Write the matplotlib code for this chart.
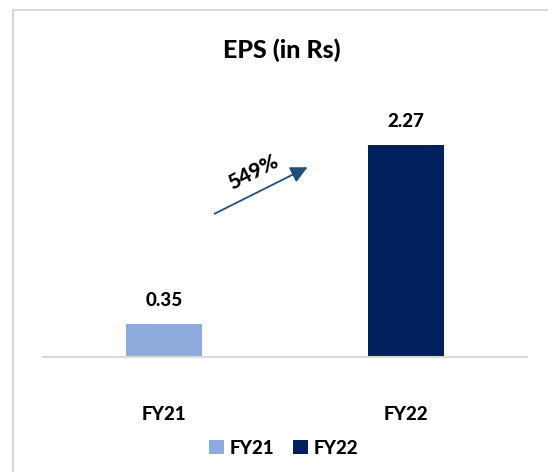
import matplotlib
matplotlib.use("Agg")
import matplotlib.pyplot as plt
from matplotlib.patches import Rectangle, Patch

categories = ["FY21", "FY22"]
values = [0.35, 2.27]
colors = ["#8FAADC", "#002060"]
growth_label = "549%"
title = "EPS (in Rs)"

plt.rcParams['font.family'] = ['Lato', 'DejaVu Sans']
WEIGHT = 900

W, H = 548, 472
fig = plt.figure(figsize=(W/100, H/100), dpi=100)
fig.patch.set_facecolor("white")

# outer border (extends past right/bottom edges)
fig.patches.append(Rectangle((13/W, -0.05), 1.2, 1 - 10/H + 0.05,
                             transform=fig.transFigure, fill=False,
                             edgecolor="#D9D9D9", linewidth=1.5))

ax = fig.add_axes([43/W, 115/H, 484/W, 233.5/H])
x = list(range(len(categories)))
bars = ax.bar(x, values, width=0.314, color=colors)
ax.set_xlim(-0.5, 1.5)
ax.set_ylim(0, 2.5)
for s in ["top", "right", "left"]:
    ax.spines[s].set_visible(False)
ax.spines["bottom"].set_color("#D9D9D9")
ax.spines["bottom"].set_linewidth(1.5)
ax.set_yticks([])
ax.set_xticks(x)
ax.set_xticklabels(categories, fontsize=13.5, fontweight=WEIGHT)
ax.tick_params(axis="x", length=0, pad=35)

for xi, v in zip(x, values):
    ax.annotate(f"{v:.2f}", (xi, v), xytext=(0, 11), textcoords="offset points",
                ha="center", va="bottom", fontsize=13.5, fontweight=WEIGHT)

fig.text(282/W, 1 - 50/H, title, ha="center", va="center",
         fontsize=18, fontweight=WEIGHT)

# growth arrow
ax.annotate("", xy=(310/W, 1 - 166/H), xytext=(212/W, 1 - 215/H),
            xycoords="figure fraction", textcoords="figure fraction",
            arrowprops=dict(arrowstyle="-|>,head_length=1.0,head_width=0.5",
                            color="#1F4E79", lw=1.3))
fig.text(253/W, 1 - 172/H, growth_label, ha="center", va="center",
         rotation=27, fontsize=15, fontweight=WEIGHT)

handles = [Patch(facecolor=c, label=l) for c, l in zip(colors, categories)]
fig.legend(handles=handles, loc="center", bbox_to_anchor=(284/W, 1 - 448/H),
           ncol=2, frameon=False, prop={"size": 13.5, "weight": WEIGHT},
           handlelength=0.8, handleheight=0.8, handletextpad=0.3,
           columnspacing=1.0)

fig.savefig("out.png", dpi=100, facecolor="white")
